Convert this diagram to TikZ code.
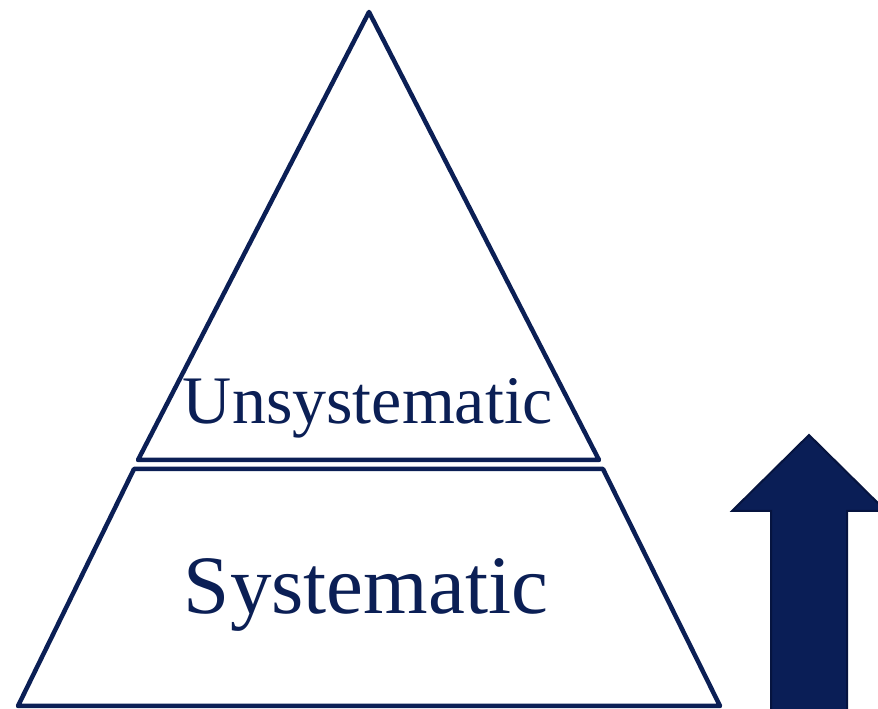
\documentclass[tikz,border=0pt]{standalone}
\usepackage{fontspec}
\setmainfont{Liberation Serif}
\usetikzlibrary{calc,positioning}
\definecolor{pyrnavy}{HTML}{0B1F55}
\definecolor{arrownavy}{HTML}{0A1E56}
\definecolor{arrowedge}{HTML}{06143F}
\begin{document}
\begin{tikzpicture}[x=1pt,y=1pt,every node/.style={text=pyrnavy,inner sep=0pt,anchor=base},layer/.style={draw=pyrnavy,line width=4.5pt,line join=round}]
\clip (0,0) rectangle (878,709);\useasboundingbox (0,0) rectangle (878,709);
\draw[layer] (369,697)--(138,249)--(599,249)--cycle;
\draw[layer] (134,240)--(603,240)--(720,3)--(18,3)--cycle;
\node[font=\fontsize{68}{72}\selectfont] (unsys) at (368,285) {Unsystematic};
\node[font=\fontsize{83}{87}\selectfont] (sys) at (366,95) {Systematic};
\draw[fill=arrownavy,draw=arrowedge,line width=2pt] (809,274)--(886,198)--(847,198)--(847,-10)--(771,-10)--(771,198)--(732,198)--cycle;
\end{tikzpicture}
\end{document}
